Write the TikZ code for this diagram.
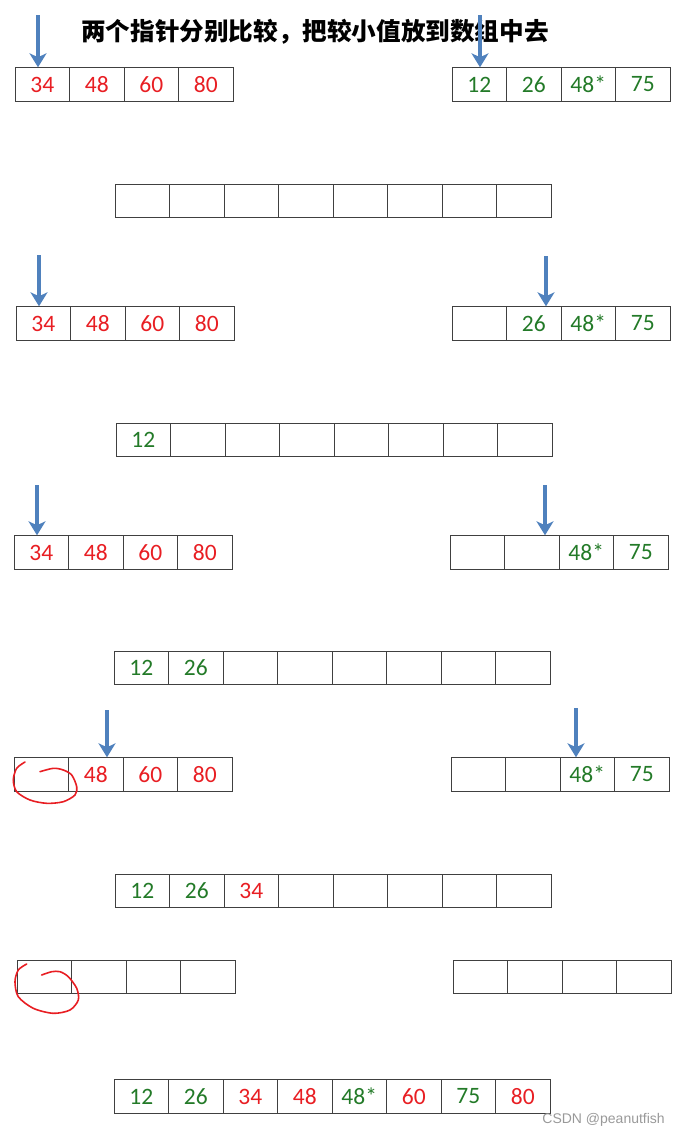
\documentclass[tikz,border=0pt]{standalone}
\usepackage{fontspec}
\usetikzlibrary{arrows.meta}
\newfontfamily\numfont{Carlito}
\newfontfamily\cjk{Noto Sans CJK SC}
\newfontfamily\marcafont{Liberation Sans}
\definecolor{numred}{RGB}{232,30,35}
\definecolor{numgreen}{RGB}{35,122,40}
\definecolor{ptrblue}{RGB}{79,129,189}
\begin{document}
\begin{tikzpicture}[x=1pt, y=-1pt,
    celda/.style={draw=black!75, line width=0.9pt, minimum width=54.5pt, minimum height=33.5pt, inner sep=0pt, font=\numfont\fontsize{23.5}{25}\selectfont},
    flecha/.style={draw=ptrblue, line width=3.6pt, -{Stealth[width=17pt,length=14pt,inset=4pt]}},
    marca/.style={draw=numred, line width=1.6pt, line cap=round}]
    \useasboundingbox (0,0) rectangle (679,1138);

    % Titulo
    \node (titulo) at (315,32) {\cjk\bfseries\fontsize{24.6}{26}\selectfont 两个指针分别比较，把较小值放到数组中去};

    % Paso 1
    \foreach \v/\c [count=\i] in {34/numred,48/numred,60/numred,80/numred}
        \node[celda, text=\c] (a1-\i) at ({15+27.25+54.5*(\i-1)},84.5) {\v};
    \foreach \v/\c [count=\i] in {12/numgreen,26/numgreen,48*/numgreen,75/numgreen}
        \node[celda, text=\c] (b1-\i) at ({452+27.25+54.5*(\i-1)},84.5) {\v};
    \foreach \i in {1,...,8}
        \node[celda] (m1-\i) at ({115+27.25+54.5*(\i-1)},201) {};

    % Paso 2
    \foreach \v/\c [count=\i] in {34/numred,48/numred,60/numred,80/numred}
        \node[celda, text=\c] (a2-\i) at ({16+27.25+54.5*(\i-1)},323.5) {\v};
    \foreach \v/\c [count=\i] in {{}/numgreen,26/numgreen,48*/numgreen,75/numgreen}
        \node[celda, text=\c] (b2-\i) at ({452+27.25+54.5*(\i-1)},323.5) {\v};
    \foreach \v/\c [count=\i] in {12/numgreen,{}/numgreen,{}/numgreen,{}/numgreen,{}/numgreen,{}/numgreen,{}/numgreen,{}/numgreen}
        \node[celda, text=\c] (m2-\i) at ({116+27.25+54.5*(\i-1)},440) {\v};

    % Paso 3
    \foreach \v/\c [count=\i] in {34/numred,48/numred,60/numred,80/numred}
        \node[celda, text=\c] (a3-\i) at ({14+27.25+54.5*(\i-1)},552.5) {\v};
    \foreach \v/\c [count=\i] in {{}/numgreen,{}/numgreen,48*/numgreen,75/numgreen}
        \node[celda, text=\c] (b3-\i) at ({450+27.25+54.5*(\i-1)},552.5) {\v};
    \foreach \v/\c [count=\i] in {12/numgreen,26/numgreen,{}/numgreen,{}/numgreen,{}/numgreen,{}/numgreen,{}/numgreen,{}/numgreen}
        \node[celda, text=\c] (m3-\i) at ({114+27.25+54.5*(\i-1)},668) {\v};

    % Paso 4
    \foreach \v/\c [count=\i] in {{}/numred,48/numred,60/numred,80/numred}
        \node[celda, text=\c] (a4-\i) at ({14+27.25+54.5*(\i-1)},774.5) {\v};
    \foreach \v/\c [count=\i] in {{}/numgreen,{}/numgreen,48*/numgreen,75/numgreen}
        \node[celda, text=\c] (b4-\i) at ({451+27.25+54.5*(\i-1)},774.5) {\v};
    \foreach \v/\c [count=\i] in {12/numgreen,26/numgreen,34/numred,{}/numgreen,{}/numgreen,{}/numgreen,{}/numgreen,{}/numgreen}
        \node[celda, text=\c] (m4-\i) at ({115+27.25+54.5*(\i-1)},891) {\v};

    % Paso 5
    \foreach \i in {1,...,4}
        \node[celda] (a5-\i) at ({17+27.25+54.5*(\i-1)},977) {};
    \foreach \i in {1,...,4}
        \node[celda] (b5-\i) at ({453+27.25+54.5*(\i-1)},977) {};
    \foreach \v/\c [count=\i] in {12/numgreen,26/numgreen,34/numred,48/numred,48*/numgreen,60/numred,75/numgreen,80/numred}
        \node[celda, text=\c] (m5-\i) at ({114+27.25+54.5*(\i-1)},1096.5) {\v};

    % Flechas
    \coordinate (pa1) at (38,15);
    \coordinate (pb1) at (480,15);
    \coordinate (pa2) at (39,255);
    \coordinate (pb2) at (546,256);
    \coordinate (pa3) at (37,485);
    \coordinate (pb3) at (545,485);
    \coordinate (pa4) at (107,710);
    \coordinate (pb4) at (576,708);
    \draw[flecha] (pa1) -- (pa1 |- a1-1.north);
    \draw[flecha] (pb1) -- (pb1 |- b1-1.north);
    \draw[flecha] (pa2) -- (pa2 |- a2-1.north);
    \draw[flecha] (pb2) -- (pb2 |- b2-2.north);
    \draw[flecha] (pa3) -- (pa3 |- a3-1.north);
    \draw[flecha] (pb3) -- (pb3 |- b3-2.north);
    \draw[flecha] (pa4) -- (pa4 |- a4-2.north);
    \draw[flecha] (pb4) -- (pb4 |- b4-3.north);

    % Circulos a mano
    \draw[marca] plot[smooth] coordinates {(25,762) (16.7,768.3) (13.3,780) (16.7,791.7) (30,800) (46.7,803.3) (63.3,801.7) (75,795) (76.7,786.7) (71.7,775) (63.3,770) (53.3,768.3) (40,771.7)};
    \draw[marca] plot[smooth] coordinates {(26.7,964) (18.3,970) (15,981.7) (18.3,996.7) (33.3,1008.3) (53.3,1013.3) (70,1010) (78.3,1000) (76.7,988.3) (68.3,976.7) (60,971.7) (51.7,971.7) (41.7,975)};

    % Marca de agua
    \node[anchor=east, text=black!40, font=\marcafont\fontsize{14}{16}\selectfont, inner sep=0pt] (csdn) at (665,1120) {CSDN @peanutfish};
\end{tikzpicture}
\end{document}
